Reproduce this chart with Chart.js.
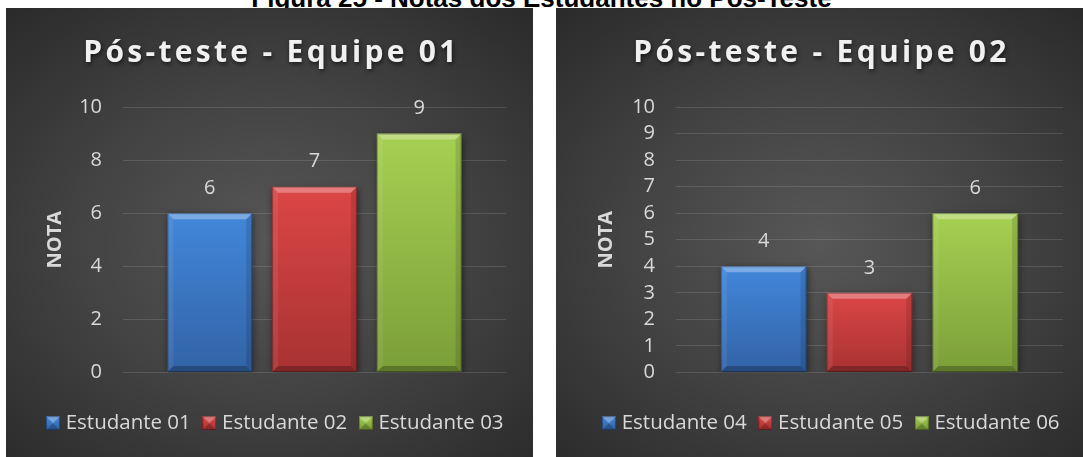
<!DOCTYPE html>
<html>
<head>
<meta charset="utf-8">
<script src="https://cdn.jsdelivr.net/npm/chart.js@4.4.1/dist/chart.umd.min.js"></script>
<style>
  body { margin: 0; width: 1083px; height: 457px; background: #fff; position: relative; overflow: hidden; }
  #caption { position: absolute; left: 0; top: -17px; width: 1083px; text-align: center; line-height: 30px;
             font: bold 26px "Liberation Sans", Arial, sans-serif; color: #000; }
  .panel { position: absolute; top: 8px; width: 527px; height: 449px;
           background: radial-gradient(ellipse 75% 70% at 50% 52%, #575757 0%, #424242 50%, #2a2a2a 100%); }
  #p1 { left: 6px; }
  #p2 { left: 556px; }
</style>
</head>
<body>
<div id="caption">Figura 25 - Notas dos Estudantes no Pós-Teste</div>
<div class="panel" id="p1"><canvas id="chart1" width="527" height="449"></canvas></div>
<div class="panel" id="p2"><canvas id="chart2" width="527" height="449"></canvas></div>
<script>
// data
const titles = ['Pós-teste - Equipe 01', 'Pós-teste - Equipe 02'];
const students1 = ['Estudante 01', 'Estudante 02', 'Estudante 03'];
const notes1 = [6, 7, 9];
const students2 = ['Estudante 04', 'Estudante 05', 'Estudante 06'];
const notes2 = [4, 3, 6];
const axisTitle = 'NOTA';
const yMax = 10;
const yStep1 = 2;
const yStep2 = 1;

// colours for the three students (top / bottom of the bar)
const barTop = ['#4287da', '#dc4646', '#a6d052'];
const barBottom = ['#3263a6', '#a83232', '#7b9e38'];
const swatch = ['#3a73bf', '#c53c3c', '#92b846'];
const txt = '#d9d9d9';
const font = '"Open Sans", "DejaVu Sans", sans-serif';

function barFill(i) {
  return (ctx) => {
    const chart = ctx.chart;
    const y = chart.scales.y;
    if (!chart.chartArea || !y) return swatch[i];
    const top = y.getPixelForValue(ctx.raw);
    const g = chart.ctx.createLinearGradient(0, top, 0, y.getPixelForValue(0));
    g.addColorStop(0, barTop[i]);
    g.addColorStop(1, barBottom[i]);
    return g;
  };
}

function poly(c, pts, fill) {
  c.beginPath();
  c.moveTo(pts[0][0], pts[0][1]);
  for (let k = 1; k < pts.length; k++) c.lineTo(pts[k][0], pts[k][1]);
  c.closePath();
  c.fillStyle = fill;
  c.fill();
}

// small bevelled square for the legend
function makeSwatch(i) {
  const s = 14;
  const cv = document.createElement('canvas');
  cv.width = s; cv.height = s;
  const c = cv.getContext('2d');
  const g = c.createLinearGradient(0, 0, 0, s);
  g.addColorStop(0, barTop[i]);
  g.addColorStop(1, barBottom[i]);
  c.fillStyle = g;
  c.fillRect(0, 0, s, s);
  poly(c, [[0, 0], [s, 0], [s / 2, s / 2]], 'rgba(255,255,255,0.30)');
  poly(c, [[0, s], [s / 2, s / 2], [s, s]], 'rgba(0,0,0,0.22)');
  c.strokeStyle = 'rgba(0,0,0,0.35)';
  c.strokeRect(0.5, 0.5, s - 1, s - 1);
  return cv;
}

// shadow under the bars
const barShadow = {
  id: 'barShadow',
  beforeDatasetDraw(chart) {
    const c = chart.ctx;
    c.save();
    c.shadowColor = 'rgba(0,0,0,0.55)';
    c.shadowBlur = 7;
    c.shadowOffsetX = 1;
    c.shadowOffsetY = 2;
  },
  afterDatasetDraw(chart) { chart.ctx.restore(); }
};

// bevel look + value labels
const bevel = {
  id: 'bevel',
  afterDatasetsDraw(chart) {
    const c = chart.ctx;
    chart.data.datasets.forEach((ds, i) => {
      chart.getDatasetMeta(i).data.forEach((bar, j) => {
        const {x, y, base, width} = bar.getProps(['x', 'y', 'base', 'width'], true);
        const l = x - width / 2, r = x + width / 2, t = y, b = base, d = 6;
        poly(c, [[l, t], [r, t], [r - d, t + d], [l + d, t + d]], 'rgba(255,255,255,0.30)');
        poly(c, [[l, t], [l + d, t + d], [l + d, b - d], [l, b]], 'rgba(255,255,255,0.07)');
        poly(c, [[r, t], [r, b], [r - d, b - d], [r - d, t + d]], 'rgba(0,0,0,0.12)');
        poly(c, [[l, b], [l + d, b - d], [r - d, b - d], [r, b]], 'rgba(0,0,0,0.25)');
        c.strokeStyle = 'rgba(0,0,0,0.3)';
        c.lineWidth = 1;
        c.strokeRect(l + 0.5, t + 0.5, width - 1, b - t - 1);

        c.save();
        c.font = '20px ' + font;
        c.fillStyle = txt;
        c.textAlign = 'center';
        c.textBaseline = 'middle';
        c.fillText(ds.data[j], x, y - 25);
        c.restore();
      });
    });
  }
};

// title with letter spacing (built-in title keeps the space)
const spacedTitle = {
  id: 'spacedTitle',
  afterDraw(chart) {
    const tb = chart.titleBlock;
    const o = chart.options.plugins.title;
    const c = chart.ctx;
    c.save();
    c.font = 'bold ' + o.font.size + 'px ' + font;
    c.letterSpacing = '3.3px';
    c.fillStyle = '#f0f0f0';
    c.textAlign = 'center';
    c.textBaseline = 'alphabetic';
    c.shadowColor = 'rgba(0,0,0,0.6)';
    c.shadowBlur = 4;
    c.shadowOffsetX = 1;
    c.shadowOffsetY = 2;
    c.fillText(o.text, chart.width / 2 + 2, tb.top + o.padding.top + o.font.size * 0.8);
    c.restore();
  }
};

// move legend row sideways like the original
const legendShift = {
  id: 'legendShift',
  afterLayout(chart, args, opts) {
    chart.legend.left += opts.dx;
    chart.legend.right += opts.dx;
  }
};

function makeChart(id, title, names, notes, step, yWidth, padRight, titlePad, legendDx) {
  const swatches = names.map((n, i) => makeSwatch(i));
  const datasets = names.map((n, i) => ({
    label: n,
    data: [notes[i]],
    backgroundColor: barFill(i),
    borderWidth: 0,
    categoryPercentage: 0.82,
    barPercentage: 0.81
  }));
  return new Chart(document.getElementById(id), {
    type: 'bar',
    data: { labels: [axisTitle], datasets: datasets },
    options: {
      responsive: false,
      animation: false,
      layout: { padding: { left: 0, right: padRight, top: 0, bottom: 13.5 } },
      scales: {
        x: {
          display: true,
          grid: { display: false, drawTicks: false },
          border: { display: false },
          ticks: { display: false },
          afterFit: (s) => { s.height = 24.5; }
        },
        y: {
          min: 0,
          max: yMax,
          ticks: { stepSize: step, autoSkip: false, color: txt, padding: 21, font: { family: font, size: 20 } },
          grid: { color: 'rgba(255,255,255,0.13)', drawTicks: false },
          border: { display: false },
          title: { display: true, text: axisTitle, color: txt, padding: { top: titlePad },
                   font: { family: font, size: 20, weight: 'bold' } },
          afterFit: (s) => { s.width = yWidth; }
        }
      },
      plugins: {
        title: { display: true, text: title, color: 'rgba(0,0,0,0)',
                 font: { family: font, size: 30, weight: 'bold' },
                 padding: { top: 30, bottom: 33 } },
        legend: {
          position: 'bottom',
          labels: {
            color: txt, usePointStyle: true, pointStyleWidth: 5, boxHeight: 14, padding: 16,
            font: { family: font, size: 20.5 },
            generateLabels: (chart) => names.map((n, i) => ({
              text: n, pointStyle: swatches[i], fillStyle: swatch[i], lineWidth: 0,
              datasetIndex: i, hidden: false, fontColor: txt
            }))
          }
        },
        legendShift: { dx: legendDx },
        tooltip: { enabled: false }
      }
    },
    plugins: [barShadow, bevel, spacedTitle, legendShift]
  });
}

makeChart('chart1', titles[0], students1, notes1, yStep1, 117, 27, 37, 21);
makeChart('chart2', titles[1], students2, notes2, yStep2, 120, 20, 38, 23.5);
</script>
</body>
</html>
